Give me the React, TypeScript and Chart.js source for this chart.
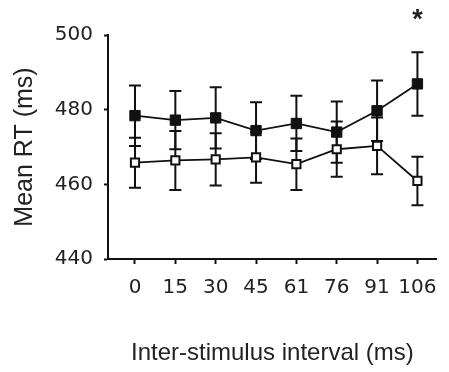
import React, { useEffect, useRef } from "react";
import { Chart, registerables } from "chart.js";

Chart.register(...registerables);

const isiLabels = ["0", "15", "30", "45", "61", "76", "91", "106"];
const filledMeans = [478.4, 477.2, 477.8, 474.4, 476.3, 474.0, 479.7, 486.9];
const filledErr = [8.1, 7.8, 8.2, 7.6, 7.4, 8.2, 8.1, 8.5];
const openMeans = [465.8, 466.4, 466.7, 467.2, 465.4, 469.4, 470.3, 460.9];
const openErr = [6.7, 7.9, 7.0, 6.8, 6.9, 7.4, 7.6, 6.5];
const errorsByDataset = [openErr, filledErr];
const yTicks = [440, 460, 480, 500];
const significantIndex = 7;

const INK = "#111";
const TEXT = "#222";

const errorBarPlugin = {
  id: "errorBars",
  beforeDatasetsDraw(chart: any) {
    const { ctx } = chart;
    const yScale = chart.scales.y;
    ctx.save();
    ctx.strokeStyle = INK;
    ctx.lineWidth = 2;
    chart.data.datasets.forEach((ds: any, di: number) => {
      const meta = chart.getDatasetMeta(di);
      const errs = errorsByDataset[di];
      meta.data.forEach((pt: any, i: number) => {
        const v = ds.data[i].y;
        const e = errs[i];
        const x = pt.x;
        const yT = yScale.getPixelForValue(v + e);
        const yB = yScale.getPixelForValue(v - e);
        ctx.beginPath();
        ctx.moveTo(x, yT);
        ctx.lineTo(x, yB);
        ctx.moveTo(x - 6, yT);
        ctx.lineTo(x + 6, yT);
        ctx.moveTo(x - 6, yB);
        ctx.lineTo(x + 6, yB);
        ctx.stroke();
      });
    });
    ctx.restore();
  },
  afterDraw(chart: any) {
    const { ctx } = chart;
    const x = chart.scales.x.getPixelForValue(significantIndex);
    ctx.save();
    ctx.fillStyle = TEXT;
    ctx.font = "bold 27px 'Liberation Sans'";
    ctx.textAlign = "center";
    ctx.textBaseline = "alphabetic";
    ctx.fillText("*", x, chart.chartArea.top - 7);
    ctx.restore();
  },
};

export default function App() {
  const ref = useRef<HTMLCanvasElement | null>(null);
  useEffect(() => {
    document.body.style.margin = "0";
    const canvas = ref.current;
    if (!canvas) return;
    const chart = new Chart(canvas, {
      type: "line",
      data: {
        datasets: [
          {
            label: "open",
            data: openMeans.map((y, i) => ({ x: i, y })),
            borderColor: INK,
            borderWidth: 1.8,
            pointStyle: "rect",
            pointRadius: 5.8,
            pointBorderWidth: 2,
            pointBackgroundColor: "#fff",
            pointBorderColor: INK,
            fill: false,
          },
          {
            label: "filled",
            data: filledMeans.map((y, i) => ({ x: i, y })),
            borderColor: INK,
            borderWidth: 1.8,
            pointStyle: "rect",
            pointRadius: 7.3,
            pointBorderWidth: 1,
            pointBackgroundColor: INK,
            pointBorderColor: INK,
            fill: false,
          },
        ],
      },
      options: {
        animation: false,
        responsive: false,
        events: [],
        layout: { padding: { top: 35, right: 0, left: 0, bottom: 0 } },
        plugins: { legend: { display: false }, tooltip: { enabled: false } },
        scales: {
          x: {
            type: "linear",
            min: -0.669,
            max: 7.478,
            afterFit: (s: any) => {
              s.height = 113;
            },
            afterBuildTicks: (s: any) => {
              s.ticks = isiLabels.map((_, i) => ({ value: i }));
            },
            ticks: {
              callback: (v: any) => isiLabels[v] ?? "",
              color: TEXT,
              font: { family: "'DejaVu Sans'", size: 20 },
              padding: 12,
              maxRotation: 0,
              autoSkip: false,
            },
            grid: {
              drawOnChartArea: false,
              drawTicks: true,
              tickLength: 5,
              tickWidth: 2,
              color: INK,
            },
            border: { display: true, color: INK, width: 2 },
            title: {
              display: true,
              text: "Inter-stimulus interval (ms)",
              color: TEXT,
              font: { family: "'Liberation Sans'", size: 24 },
              padding: { top: 0, bottom: 4 },
            },
          },
          y: {
            min: 440,
            max: 500,
            afterFit: (s: any) => {
              s.width = 108;
            },
            afterBuildTicks: (s: any) => {
              s.ticks = yTicks.map((v) => ({ value: v }));
            },
            ticks: {
              color: TEXT,
              font: { family: "'DejaVu Sans'", size: 20 },
              padding: 11,
            },
            grid: {
              drawOnChartArea: false,
              drawTicks: true,
              tickLength: 4,
              tickWidth: 2,
              color: INK,
            },
            border: { display: true, color: INK, width: 2 },
            title: {
              display: true,
              text: "Mean RT (ms)",
              color: TEXT,
              font: { family: "'Liberation Sans'", size: 25 },
              padding: { top: 10, bottom: 0 },
            },
          },
        },
      },
      plugins: [errorBarPlugin],
    });
    return () => chart.destroy();
  }, []);
  return (
    <div style={{ position: "relative", width: 449, height: 372 }}>
      <canvas ref={ref} width={449} height={372} style={{ display: "block" }} />
    </div>
  );
}
